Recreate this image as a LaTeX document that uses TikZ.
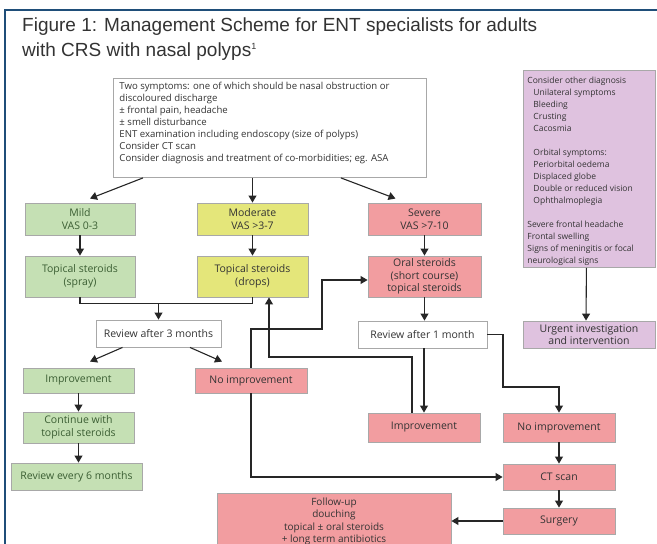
\documentclass[tikz,border=0pt]{standalone}
\usepackage{fontspec}
\setmainfont{Liberation Sans}
\newfontfamily\diag{Open Sans}
\usetikzlibrary{arrows.meta,calc}
\definecolor{frameblue}{HTML}{1F4E79}
\definecolor{gfill}{HTML}{C5E0B4}
\definecolor{yfill}{HTML}{E4E67A}
\definecolor{rfill}{HTML}{F29DA0}
\definecolor{pfill}{HTML}{DFC2DF}
\definecolor{bordergray}{HTML}{A8A8A8}
\definecolor{txt}{HTML}{333333}
\definecolor{gtxt}{HTML}{3B5E33}
\begin{document}
\begin{tikzpicture}[x=1pt,y=-1pt,
 box/.style={draw=bordergray, line width=0.9pt, inner sep=1pt, align=center, font=\diag\fontsize{10.5}{12.5}\selectfont, text=txt},
 gbox/.style={box, fill=gfill, text=gtxt},
 ybox/.style={box, fill=yfill},
 rbox/.style={box, fill=rfill},
 wbox/.style={box, fill=white},
 pbox/.style={box, fill=pfill},
 arr/.style={line width=1.1pt, draw=black!85, -{Triangle[length=7pt,width=8pt]}},
 ln/.style={line width=1.1pt, draw=black!85},
 title/.style={anchor=base west, inner sep=0pt, font=\fontsize{19}{23}\selectfont, text=txt}
]
\useasboundingbox (0,0) rectangle (657,544);
\clip (0,0) rectangle (657,544);
\fill[white] (0,0) rectangle (657,544);
\draw[frameblue, line width=2.5pt] (5,545) -- (5,10) -- (658,10);

\node[title] (t1) at (22,31) {Figure 1: Management Scheme for ENT specialists for adults};
\node[title] (t2) at (22,56) {with CRS with nasal polyps\textsuperscript{\fontsize{9}{9}\selectfont 1}};

% top box
\node[wbox, anchor=north west, inner xsep=6pt, inner ysep=4pt, font=\diag\fontsize{9.6}{12}\selectfont] (top) at (113,78)
 {\parbox[c][91pt][t]{301pt}{\raggedright
 Two symptoms: one of which should be nasal obstruction or\\
 discoloured discharge\\
 ± frontal pain, headache\\
 ± smell disturbance\\
 ENT examination including endoscopy (size of polyps)\\
 Consider CT scan\\
 Consider diagnosis and treatment of co-morbidities; eg. ASA}};

% purple box
\node[pbox, anchor=north west, inner xsep=4pt, inner ysep=7pt, font=\diag\fontsize{8.5}{12}\selectfont] (purple) at (523,70)
 {\parbox[c][183pt][t]{124pt}{\raggedright
 Consider other diagnosis\\
 \hspace*{6pt}Unilateral symptoms\\
 \hspace*{6pt}Bleeding\\
 \hspace*{6pt}Crusting\\
 \hspace*{6pt}Cacosmia\\[12pt]
 \hspace*{6pt}Orbital symptoms:\\
 \hspace*{6pt}Periorbital oedema\\
 \hspace*{6pt}Displaced globe\\
 \hspace*{6pt}Double or reduced vision\\
 \hspace*{6pt}Ophthalmoplegia\\[12pt]
 Severe frontal headache\\
 Frontal swelling\\
 Signs of meningitis or focal\\
 neurological signs}};
\node[pbox, minimum width=132pt, minimum height=27pt] (urgent) at (589,334.5) {Urgent investigation\\and intervention};

% severity row
\node[gbox, minimum width=110pt, minimum height=32pt] (mild) at (80,219) {Mild\\VAS 0-3};
\node[ybox, minimum width=111pt, minimum height=32pt] (mod) at (252.5,219) {Moderate\\VAS >3-7};
\node[rbox, minimum width=113pt, minimum height=32pt] (sev) at (424.5,219) {Severe\\VAS >7-10};

% treatment row
\node[gbox, minimum width=110pt, minimum height=41pt] (spray) at (80,276.5) {Topical steroids\\(spray)};
\node[ybox, minimum width=111pt, minimum height=41pt] (drops) at (252.5,276.5) {Topical steroids\\(drops)};
\node[rbox, minimum width=113pt, minimum height=41pt] (oral) at (424.5,276.5) {Oral steroids\\(short course)\\topical steroids};

% reviews
\node[wbox, minimum width=125pt, minimum height=27pt] (rev3) at (158.5,333.5) {Review after 3 months};
\node[wbox, minimum width=129pt, minimum height=27pt] (rev1) at (422.5,334.5) {Review after 1 month};

% outcomes
\node[gbox, minimum width=111pt, minimum height=25pt] (impL) at (78.5,380.5) {Improvement};
\node[rbox, minimum width=112pt, minimum height=25pt] (noimpL) at (251,380.5) {No improvement};
\node[gbox, minimum width=111pt, minimum height=31pt] (cont) at (78.5,427.5) {Continue with\\topical steroids};
\node[gbox, minimum width=131pt, minimum height=27pt] (rev6) at (76.5,476.5) {Review every 6 months};
\node[rbox, minimum width=112pt, minimum height=29pt] (impR) at (424,427.5) {Improvement};
\node[rbox, minimum width=112pt, minimum height=29pt] (noimpR) at (559,427.5) {No improvement};
\node[rbox, minimum width=112pt, minimum height=26pt] (ct) at (559,477) {CT scan};
\node[rbox, minimum width=112pt, minimum height=26pt] (surg) at (559,521) {Surgery};
\node[rbox, anchor=north, minimum width=234pt, inner ysep=4pt, font=\diag\fontsize{10}{12.5}\selectfont] (follow) at (334,493)
 {Follow-up\\douching\\topical ± oral steroids\\+ long term antibiotics\\[4pt]};

% connectors
\draw[arr] ([xshift=30pt]top.south west) -- ($(mild.north)+(10,-4)$);
\draw[arr] (top.south -| mod.north) -- (mod.north);
\draw[arr] ([xshift=-86pt]top.south east) -- ($(sev.north)+(-29,-4)$);
\draw[arr] ([xshift=-3pt]purple.south) -- ([xshift=-3pt]urgent.north);

\draw[arr] (mild.south) -- (spray.north);
\draw[arr] (mod.south) -- (drops.north);
\draw[arr] (sev.south) -- (oral.north);
\draw[arr] (oral.south) -- (oral.south |- rev1.north);

\coordinate (jn) at ($(spray.south)+(0,6)$);
\draw[ln] (spray.south) -- (jn) -| (drops.south);
\draw[arr] (jn -| rev3.north) -- (rev3.north);

\draw[arr] ([xshift=-36pt]rev3.south) -- ($(impL.north)+(11.5,-6)$);
\draw[arr] ([xshift=31.5pt]rev3.south) -- ($(noimpL.north)+(-29,-6)$);
\draw[arr] (impL.south) -- (cont.north);
\draw[arr] (cont.south) -- (cont.south |- rev6.north);

\coordinate (c0) at (322,329);
\draw[arr] (noimpL.north) |- (c0) |- ([yshift=-3.5pt]oral.west);
\coordinate (c1) at (269,357);
\draw[arr] ([xshift=-12pt]impR.north) |- (c1) -- (c1 |- drops.south);
\draw[arr] (rev1.south -| impR.north) -- (impR.north);
\coordinate (c2) at (503,387);
\draw[arr] (rev1.east) -| (c2) -| (noimpR.north);
\draw[arr] (noimpR.south) -- (ct.north);
\draw[arr] (ct.south) -- (surg.north);
\draw[arr] (noimpL.south) |- (ct.west);
\draw[arr] (surg.west) -- (surg.west -| follow.east);
\end{tikzpicture}
\end{document}
